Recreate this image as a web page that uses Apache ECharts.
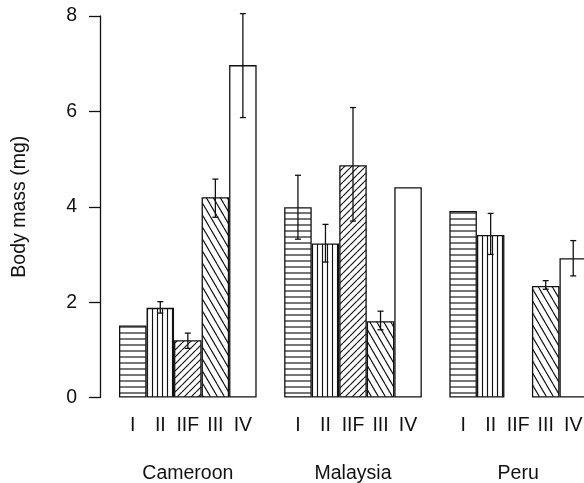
<!DOCTYPE html>
<html>
<head>
<meta charset="utf-8">
<script src="https://cdn.jsdelivr.net/npm/echarts@6/dist/echarts.min.js"></script>
<style>
  html, body { margin: 0; padding: 0; background: #fff; }
  #chart { width: 584px; height: 483px; }
</style>
</head>
<body>
<div id="chart"></div>
<script>
// countries and stages
var countries = ['Cameroon', 'Malaysia', 'Peru'];
var stages = ['I', 'II', 'IIF', 'III', 'IV'];

// mean body mass (mg), null = no bar
var cameroonMass = [1.51, 1.88, 1.20, 4.20, 6.97];
var malaysiaMass = [3.99, 3.23, 4.87, 1.60, 4.41];
var peruMass = [3.91, 3.41, null, 2.34, 2.92];

// error bar ends
var cameroonLow = [null, 1.77, 1.03, 3.78, 5.87];
var cameroonHigh = [null, 2.01, 1.35, 4.58, 8.05];
var malaysiaLow = [3.32, 2.84, 3.70, 1.42, null];
var malaysiaHigh = [4.66, 3.63, 6.08, 1.81, null];
var peruLow = [null, 3.00, null, 2.27, 2.55];
var peruHigh = [null, 3.86, null, 2.45, 3.29];

var yTicks = [0, 2, 4, 6, 8];

var FONT = '"Liberation Sans", Arial, Helvetica, sans-serif';
var INK = '#111';

// hatch fills
function hatch(kind) {
    var c = document.createElement('canvas');
    var w = 6, h = 6;
    if (kind === 'v') { w = 5; h = 5; }
    if (kind === 'fwd') { w = 7; h = 7; }
    if (kind === 'back') { w = 7; h = 12; }
    c.width = w; c.height = h;
    var ctx = c.getContext('2d');
    ctx.fillStyle = '#fff';
    ctx.fillRect(0, 0, w, h);
    ctx.strokeStyle = INK;
    ctx.lineWidth = 1.15;
    ctx.beginPath();
    if (kind === 'h') {
        ctx.moveTo(0, 3); ctx.lineTo(w, 3);
    } else if (kind === 'v') {
        ctx.moveTo(2.5, 0); ctx.lineTo(2.5, h);
    } else if (kind === 'fwd') {
        for (var k = -1; k <= 1; k++) {
            ctx.moveTo(k * w, h); ctx.lineTo(k * w + w, 0);
        }
    } else if (kind === 'back') {
        for (var j = -1; j <= 1; j++) {
            ctx.moveTo(j * w, 0); ctx.lineTo(j * w + w, h);
        }
    }
    ctx.stroke();
    return { image: c, repeat: 'repeat' };
}

var fills = [hatch('h'), hatch('v'), hatch('fwd'), hatch('back'), '#fff'];

// build 17 slots: 5 stages, gap, 5 stages, gap, 5 stages
var masses = [cameroonMass, malaysiaMass, peruMass];
var lows = [cameroonLow, malaysiaLow, peruLow];
var highs = [cameroonHigh, malaysiaHigh, peruHigh];

var slots = [];
var groupAt = {};
var barData = [];
var errData = [];
for (var g = 0; g < countries.length; g++) {
    if (g > 0) {
        slots.push('gap' + g);
        barData.push('-');
    }
    for (var s = 0; s < stages.length; s++) {
        var idx = slots.length;
        slots.push(stages[s] + '_' + g);
        if (s === 2) groupAt[idx] = countries[g];
        var v = masses[g][s];
        barData.push(v == null ? '-' : { value: v, itemStyle: { color: fills[s] } });
        if (lows[g][s] != null) errData.push([idx, lows[g][s], highs[g][s]]);
    }
}

var myChart = echarts.init(document.getElementById('chart'), null, { renderer: 'canvas' });

var option = {
    backgroundColor: '#fff',
    animation: false,
    grid: {
        left: 119,
        top: 16,
        width: 468,
        height: 381.5,
        containLabel: false,
        outerBoundsMode: 'none'
    },
    xAxis: {
        type: 'category',
        data: slots,
        axisLine: { show: false },
        axisTick: { show: false },
        axisLabel: {
            interval: 0,
            margin: 16,
            color: INK,
            fontSize: 19.5,
            fontFamily: FONT,
            lineHeight: 24,
            formatter: function (val, i) {
                if (val.indexOf('gap') === 0) return '';
                var lab = val.split('_')[0];
                if (groupAt[i]) lab += '\n\n' + groupAt[i];
                return lab;
            }
        }
    },
    yAxis: {
        type: 'value',
        min: yTicks[0],
        max: yTicks[yTicks.length - 1],
        interval: 2,
        offset: 19,
        name: 'Body mass (mg)',
        nameLocation: 'middle',
        nameGap: 70,
        nameTextStyle: { color: INK, fontSize: 19.5, fontFamily: FONT },
        axisLine: { show: true, lineStyle: { color: INK, width: 1.3 } },
        axisTick: { show: true, length: 11, lineStyle: { color: INK, width: 1.3 } },
        axisLabel: { margin: 23, color: INK, fontSize: 19.5, fontFamily: FONT },
        splitLine: { show: false }
    },
    series: [
        {
            type: 'bar',
            data: barData,
            barWidth: '100%',
            barGap: '0%',
            itemStyle: { borderColor: INK, borderWidth: 1.3 }
        },
        {
            type: 'custom',
            data: errData,
            z: 10,
            renderItem: function (params, api) {
                var x = api.value(0);
                var lo = api.coord([x, api.value(1)]);
                var hi = api.coord([x, api.value(2)]);
                var cap = 3;
                var st = { stroke: INK, lineWidth: 1.3 };
                return {
                    type: 'group',
                    children: [
                        { type: 'line', shape: { x1: lo[0], y1: lo[1], x2: hi[0], y2: hi[1] }, style: st },
                        { type: 'line', shape: { x1: hi[0] - cap, y1: hi[1], x2: hi[0] + cap, y2: hi[1] }, style: st },
                        { type: 'line', shape: { x1: lo[0] - cap, y1: lo[1], x2: lo[0] + cap, y2: lo[1] }, style: st }
                    ]
                };
            }
        }
    ]
};

// 绘制图表
myChart.setOption(option);
</script>
</body>
</html>
